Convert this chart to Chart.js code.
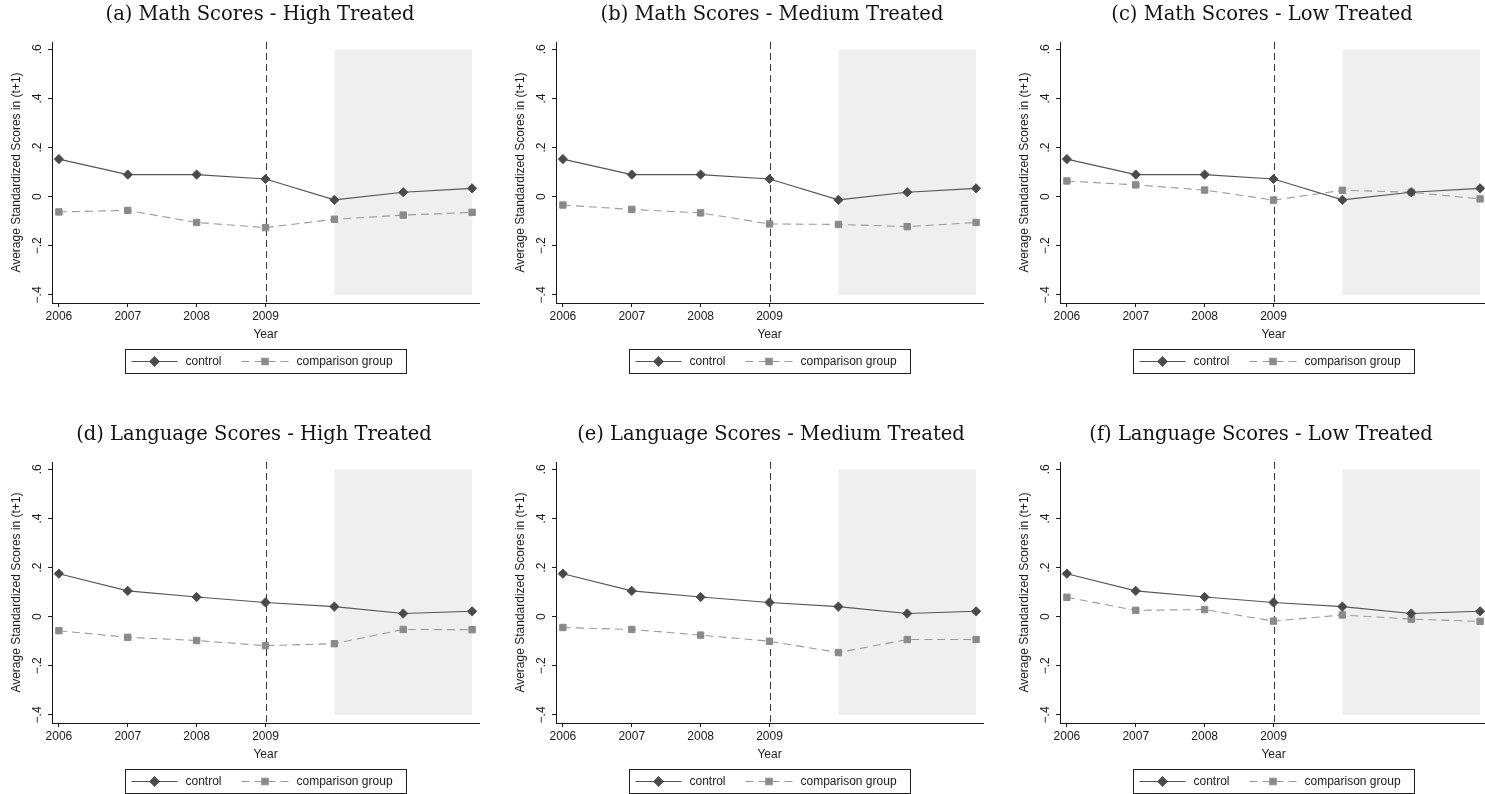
<!DOCTYPE html>
<html>
<head>
<meta charset="utf-8">
<script src="https://cdn.jsdelivr.net/npm/chart.js@4.4.1/dist/chart.umd.min.js"></script>
<style>
  html, body { margin: 0; padding: 0; background: #fff; }
  #grid { position: relative; width: 1485px; height: 794px; overflow: hidden; background: #fff; }
  #grid canvas { position: absolute; }
</style>
</head>
<body>
<div id="grid"></div>
<script>
// ---- data -------------------------------------------------------------
const years = [2006, 2007, 2008, 2009, 2010, 2011, 2012];
const xTickYears = [2006, 2007, 2008, 2009];
const yTickValues = [-0.4, -0.2, 0, 0.2, 0.4, 0.6];
const yTickLabels = ['\u2212.4', '\u2212.2', '0', '.2', '.4', '.6'];

const mathControl  = [0.153, 0.090, 0.090, 0.072, -0.013, 0.018, 0.034];
const mathHighComp = [-0.062, -0.056, -0.105, -0.126, -0.092, -0.075, -0.064];
const mathMedComp  = [-0.034, -0.052, -0.066, -0.111, -0.113, -0.122, -0.105];
const mathLowComp  = [0.064, 0.048, 0.027, -0.014, 0.026, 0.018, -0.009];

const langControl  = [0.175, 0.105, 0.080, 0.058, 0.041, 0.013, 0.022];
const langHighComp = [-0.057, -0.084, -0.097, -0.118, -0.110, -0.052, -0.053];
const langMedComp  = [-0.044, -0.052, -0.075, -0.100, -0.146, -0.093, -0.093];
const langLowComp  = [0.079, 0.026, 0.029, -0.018, 0.007, -0.010, -0.019];

const seriesNames = ['control', 'comparison group'];
const eventYear = 2009;
const shadeYears = [2010, 2012];
const shadeScores = [-0.4, 0.6];

const panelTitles = [
  '(a) Math Scores - High Treated',
  '(b) Math Scores - Medium Treated',
  '(c) Math Scores - Low Treated',
  '(d) Language Scores - High Treated',
  '(e) Language Scores - Medium Treated',
  '(f) Language Scores - Low Treated'
];
const panelControl = [mathControl, mathControl, mathControl, langControl, langControl, langControl];
const panelComparison = [mathHighComp, mathMedComp, mathLowComp, langHighComp, langMedComp, langLowComp];

// ---- layout / style ---------------------------------------------------
const PANEL_W = 504, PANEL_H = 380, ROW_STEP = 420;
// caption centres, measured from each panel's left edge
const titleCenters = [260, 268, 254, 254, 267, 253];
const SANS = '"Liberation Sans", Arial, Helvetica, sans-serif';
const SERIF = '"DejaVu Serif", "Liberation Serif", serif';
const INK = '#1a1a1a';

// shaded post-period window, event line, caption and legend
const panelDecor = {
  id: 'panelDecor',
  beforeDatasetsDraw(chart) {
    const { ctx, chartArea, scales: { x, y } } = chart;
    ctx.save();
    const x0 = x.getPixelForValue(shadeYears[0]);
    const x1 = x.getPixelForValue(shadeYears[1]);
    const y0 = y.getPixelForValue(shadeScores[1]);
    const y1 = y.getPixelForValue(shadeScores[0]);
    ctx.fillStyle = '#efefef';
    ctx.fillRect(x0, y0, x1 - x0, y1 - y0);

    const xe = Math.round(x.getPixelForValue(eventYear)) + 0.5;
    ctx.strokeStyle = '#3a3a3a';
    ctx.lineWidth = 1;
    ctx.setLineDash([7, 4]);
    ctx.beginPath();
    ctx.moveTo(xe, chartArea.top);
    ctx.lineTo(xe, chartArea.bottom);
    ctx.stroke();
    ctx.restore();
  },
  afterDraw(chart, args, opts) {
    const { ctx, chartArea } = chart;
    ctx.save();
    // panel caption
    ctx.fillStyle = '#111';
    ctx.font = '19.5px ' + SERIF;
    ctx.textAlign = 'center';
    ctx.textBaseline = 'middle';
    ctx.fillText(opts.title, opts.titleX, 15);

    // legend box
    const boxW = 281, boxH = 24, boxTop = 349;
    const cx = (chartArea.left + chartArea.right) / 2;
    const bl = Math.round(cx - boxW / 2) + 0.5;
    ctx.strokeStyle = '#222';
    ctx.lineWidth = 1;
    ctx.setLineDash([]);
    ctx.strokeRect(bl, boxTop + 0.5, boxW, boxH);

    const midY = boxTop + boxH / 2 + 0.5;
    const entries = [
      { ds: chart.data.datasets[0], x0: 6, x1: 52, tx: 60 },
      { ds: chart.data.datasets[1], x0: 116, x1: 163, tx: 171 }
    ];
    ctx.font = '12px ' + SANS;
    ctx.textAlign = 'left';
    ctx.textBaseline = 'middle';
    for (const e of entries) {
      const ds = e.ds;
      ctx.save();
      ctx.strokeStyle = ds.borderColor;
      ctx.lineWidth = ds.borderWidth;
      ctx.setLineDash(ds.borderDash || []);
      ctx.beginPath();
      ctx.moveTo(bl + e.x0, midY);
      ctx.lineTo(bl + e.x1, midY);
      ctx.stroke();
      ctx.setLineDash([]);
      ctx.fillStyle = ds.pointBackgroundColor;
      ctx.strokeStyle = ds.pointBorderColor;
      Chart.helpers.drawPoint(ctx, {
        pointStyle: ds.pointStyle, radius: ds.pointRadius, rotation: 0, borderWidth: 1
      }, bl + (e.x0 + e.x1) / 2, midY);
      ctx.restore();
      ctx.fillStyle = INK;
      ctx.fillText(ds.label, bl + e.tx, midY);
    }
    ctx.restore();
  }
};

const grid = document.getElementById('grid');

panelTitles.forEach((title, i) => {
  const col = i % 3, row = Math.floor(i / 3);
  const canvas = document.createElement('canvas');
  canvas.width = PANEL_W;
  canvas.height = PANEL_H;
  canvas.style.left = (col * PANEL_W) + 'px';
  canvas.style.top = (row * ROW_STEP) + 'px';
  canvas.style.width = PANEL_W + 'px';
  canvas.style.height = PANEL_H + 'px';
  grid.appendChild(canvas);

  const points = (vals) => years.map((yr, k) => ({ x: yr, y: vals[k] }));

  new Chart(canvas, {
    type: 'line',
    data: {
      datasets: [
        {
          label: seriesNames[0],
          data: points(panelControl[i]),
          borderColor: '#555555',
          borderWidth: 1.1,
          pointStyle: 'rectRot',
          pointRadius: 4.6,
          pointBackgroundColor: '#4a4a4a',
          pointBorderColor: '#4a4a4a',
          pointBorderWidth: 1,
          tension: 0,
          order: 0
        },
        {
          label: seriesNames[1],
          data: points(panelComparison[i]),
          borderColor: '#9a9a9a',
          borderWidth: 1.1,
          borderDash: [8, 5],
          pointStyle: 'rect',
          pointRadius: 4.5,
          pointBackgroundColor: '#8a8a8a',
          pointBorderColor: '#8a8a8a',
          pointBorderWidth: 1,
          tension: 0,
          order: 1
        }
      ]
    },
    options: {
      responsive: false,
      animation: false,
      devicePixelRatio: 1,
      layout: { padding: { left: 0, top: 42, right: 25, bottom: 37 } },
      plugins: {
        legend: { display: false },
        title: { display: false },
        tooltip: { enabled: false },
        panelDecor: { title: title, titleX: titleCenters[i] }
      },
      scales: {
        x: {
          type: 'linear',
          min: 2005.9,
          max: 2012.1,
          afterBuildTicks: (s) => { s.ticks = xTickYears.map(v => ({ value: v })); },
          afterFit: (s) => { s.height = 40; },
          grid: { drawOnChartArea: false, drawTicks: true, tickLength: 4, color: INK },
          border: { display: true, color: INK, width: 1 },
          ticks: {
            autoSkip: false, maxRotation: 0, padding: 2, color: INK,
            font: { family: SANS, size: 12 },
            callback: (v) => String(v)
          },
          title: {
            display: true, text: 'Year', color: INK,
            font: { family: SANS, size: 12 },
            padding: { top: 0, bottom: 1 }
          }
        },
        y: {
          type: 'linear',
          min: -0.433,
          max: 0.63,
          afterBuildTicks: (s) => { s.ticks = yTickValues.map(v => ({ value: v })); },
          afterFit: (s) => { s.width = 52; },
          grid: { drawOnChartArea: false, drawTicks: true, tickLength: 4, color: INK },
          border: { display: true, color: INK, width: 1 },
          ticks: {
            autoSkip: false, minRotation: 90, maxRotation: 90, crossAlign: 'center',
            padding: 1.5, color: INK,
            font: { family: SANS, size: 12 },
            callback: (v) => yTickLabels[yTickValues.findIndex(t => Math.abs(t - v) < 1e-9)]
          },
          title: {
            display: true, text: 'Average Standardized Scores in (t+1)', color: INK,
            font: { family: SANS, size: 12 },
            padding: { top: 9, bottom: 0 }
          }
        }
      }
    },
    plugins: [panelDecor]
  });
});
</script>
</body>
</html>
